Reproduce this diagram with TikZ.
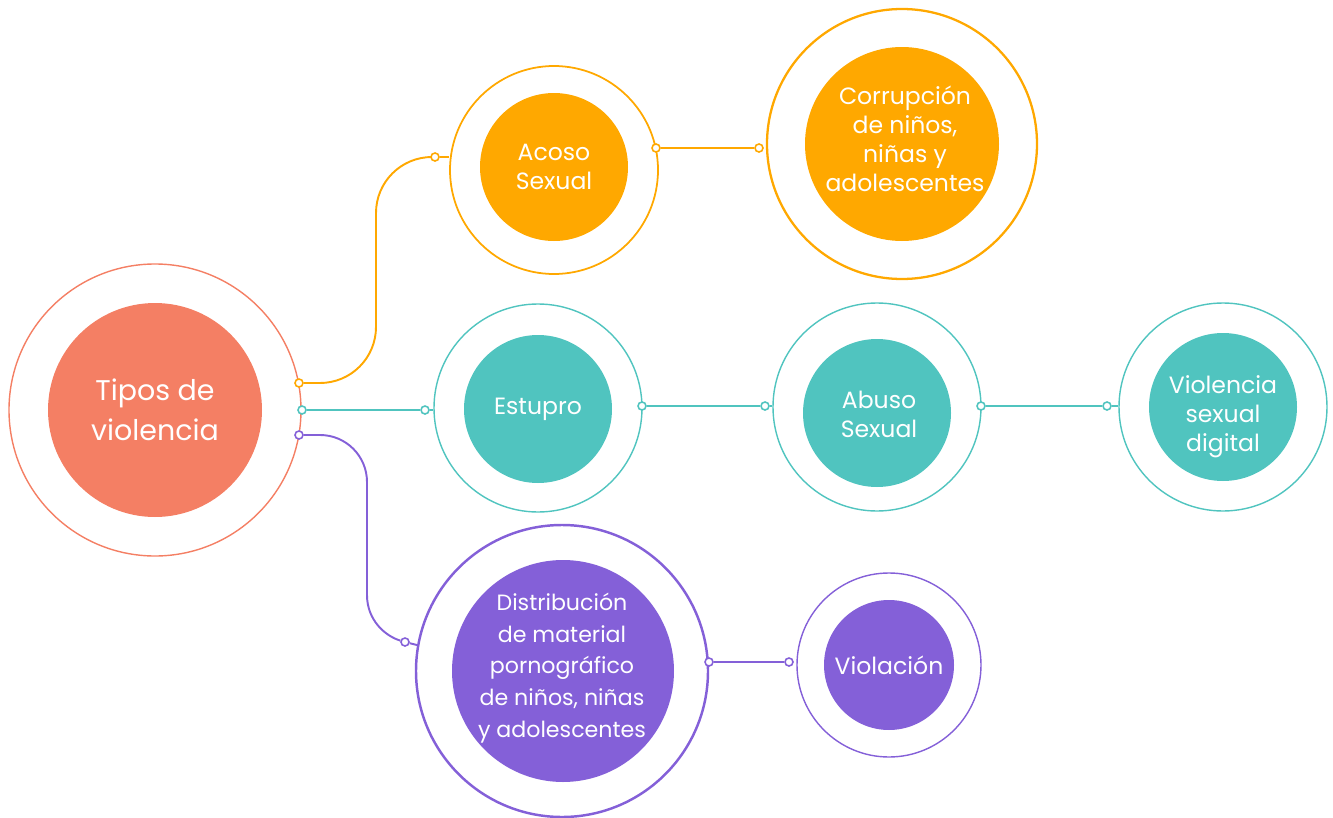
\documentclass[tikz,border=0pt]{standalone}
\usepackage{fontspec}
\setmainfont{Poppins}
\definecolor{salmon}{HTML}{F47F64}
\definecolor{orng}{HTML}{FFA800}
\definecolor{teal2}{HTML}{50C4BF}
\definecolor{purp}{HTML}{8460D8}
\pgfdeclarelayer{bg}
\pgfsetlayers{bg,main}
\begin{document}
\begin{tikzpicture}[x=0.02cm,y=-0.02cm,
  ring/.style={circle,draw=#1,line width=0.8pt,inner sep=0pt},
  core/.style={circle,fill=#1,inner sep=0pt,text=white,align=center},
  dot/.style={circle,draw=#1,fill=white,line width=0.9pt,inner sep=0pt,minimum size=0.16cm},
  link/.style={draw=#1,line width=1.1pt},
  bigtxt/.style={font=\fontsize{16.2}{22.7}\selectfont},
  midtxt/.style={font=\fontsize{13.4}{16.4}\selectfont},
  smalltxt/.style={font=\fontsize{12.6}{18.1}\selectfont}
]
\useasboundingbox (0,0) rectangle (1333,818);
% Tipos de violencia
\node[ring=salmon,minimum size={292*0.02cm}] (tipoO) at (155,410) {};
\node[core=salmon,minimum size={214*0.02cm},bigtxt] (tipo) at (155,410) {Tipos de\\violencia};
% Acoso
\node[ring=orng,line width=1pt,minimum size={208*0.02cm}] (acoO) at (554,170) {};
\node[core=orng,minimum size={148*0.02cm},midtxt] (aco) at (554,167) {Acoso\\Sexual};
% Corrupcion
\node[ring=orng,line width=1.3pt,minimum size={270*0.02cm}] (corO) at (902,144) {};
\node[core=orng,minimum size={194*0.02cm},midtxt] (cor) at (902,144) {};
\node[text=white,align=center,midtxt] (cortxt) at (905,139) {Corrupción\\de niños,\\niñas y\\adolescentes};
% Estupro
\node[ring=teal2,minimum size={208*0.02cm}] (estO) at (538,408) {};
\node[core=teal2,minimum size={148*0.02cm},midtxt] (est) at (538,409) {Estupro};
% Abuso
\node[ring=teal2,minimum size={208*0.02cm}] (abuO) at (877,407) {};
\node[core=teal2,minimum size={148*0.02cm},midtxt] (abu) at (877,413) {};
\node[text=white,align=center,midtxt] (abutxt) at (879,414) {Abuso\\Sexual};
% Violencia sexual digital
\node[ring=teal2,minimum size={208*0.02cm}] (vsdO) at (1223,407) {};
\node[core=teal2,minimum size={148*0.02cm},midtxt] (vsd) at (1223,407) {};
\node[text=white,align=center,midtxt] (vsdtxt) at (1223,417) {Violencia\\sexual\\digital};
% Distribucion
\node[ring=purp,line width=1.4pt,minimum size={292*0.02cm}] (disO) at (562,671) {};
\node[core=purp,minimum size={222*0.02cm}] (dis) at (563,671) {};
\node[text=white,align=center,smalltxt] (distxt) at (562,668) {Distribución\\de material\\pornográfico\\de niños, niñas\\y adolescentes};
% Violacion
\node[ring=purp,minimum size={184*0.02cm}] (vioO) at (889,665) {};
\node[core=purp,minimum size={130*0.02cm},midtxt] (vio) at (889,665) {Violación};
% dots
\node[dot=orng] (o1) at (299,383) {};
\node[dot=orng] (o2) at (435,157) {};
\node[dot=orng] (o3) at (656,148) {};
\node[dot=orng] (o4) at (759,148) {};
\node[dot=teal2] (t1) at (302,410) {};
\node[dot=teal2] (t2) at (425,410) {};
\node[dot=teal2] (t3) at (642,406) {};
\node[dot=teal2] (t4) at (765,406) {};
\node[dot=teal2] (t5) at (981,406) {};
\node[dot=teal2] (t6) at (1107,406) {};
\node[dot=purp] (p1) at (299,435) {};
\node[dot=purp] (p2) at (405,642) {};
\node[dot=purp] (p3) at (709,662) {};
\node[dot=purp] (p4) at (789,662) {};
\coordinate (oc) at (376,0);
\coordinate (pc) at (367,0);
\coordinate (pend) at (417,645);
% connectors
\begin{pgfonlayer}{bg}
\draw[link=orng,rounded corners=56*0.02cm] (o1) -- (o1 -| oc) -- (oc |- o2) -- (o2);
\draw[link=orng] (o2) -- (o2 -| acoO.west);
\draw[link=orng] (o3) -- (o4);
\draw[link=teal2] (t1) -- (t2);
\draw[link=teal2] (t2) -- (t2 -| estO.west);
\draw[link=teal2] (t3) -- (t4);
\draw[link=teal2] (t4) -- (t4 -| abuO.west);
\draw[link=teal2] (t5) -- (t6);
\draw[link=teal2] (t6) -- (t6 -| vsdO.west);
\draw[link=purp] (p1) -- (320,435) arc[start angle=90,end angle=0,radius=47*0.02cm] -- (367,595) .. controls (367,620) and (385,636) .. (p2);
\draw[link=purp] (p2) -- (pend);
\draw[link=purp] (p3) -- (p4);
\end{pgfonlayer}
\end{tikzpicture}
\end{document}
